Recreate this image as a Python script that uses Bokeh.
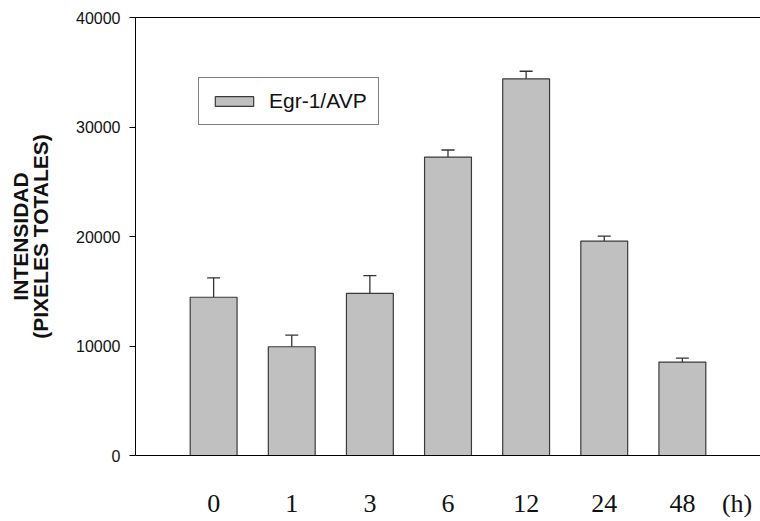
from bokeh.plotting import figure
from bokeh.models import (ColumnDataSource, FixedTicker, LinearAxis, Whisker, TeeHead,
                          Legend, LegendItem, Range1d)
from bokeh.embed import file_html
from bokeh.resources import INLINE

# ---- data ----
hours = ["0", "1", "3", "6", "12", "24", "48"]
intensity = [14450, 9930, 14800, 27250, 34400, 19580, 8530]
sem = [1780, 1060, 1620, 650, 690, 450, 360]
y_ticks = [0, 10000, 20000, 30000, 40000]
unit_label = "(h)"
series_name = "Egr-1/AVP"
y_title = "INTENSIDAD\n(PIXELES TOTALES)"

x = list(range(len(hours)))
upper = [v + e for v, e in zip(intensity, sem)]
src = ColumnDataSource(dict(x=x, top=intensity, upper=upper))

SANS = "Liberation Sans"
SERIF = "Liberation Serif"

p = figure(width=760, height=521, output_backend="svg", toolbar_location=None,
           x_range=Range1d(-1, 7), y_range=Range1d(0, 40000),
           min_border_left=135, min_border_right=0, min_border_top=17,
           min_border_bottom=66)
p.outline_line_color = None
p.xgrid.visible = False
p.ygrid.visible = False
p.background_fill_color = "white"
p.border_fill_color = "white"

bars = p.vbar(x="x", top="top", width=0.6, source=src, fill_color="#c0c0c0",
              line_color="#3a3a3a", line_width=1.2)

wh = Whisker(source=src, base="x", upper="upper", lower="top", dimension="height",
             line_color="#333333", line_width=1.3,
             upper_head=TeeHead(size=13, line_color="#333333", line_width=1.3),
             lower_head=None)
p.add_layout(wh)

# y axis
ya = p.yaxis[0]
ya.ticker = FixedTicker(ticks=y_ticks)
ya.minor_tick_line_color = None
ya.major_tick_out = 6
ya.major_tick_in = 0
ya.axis_line_color = "black"
ya.major_tick_line_color = "black"
ya.major_label_text_font = SANS
ya.major_label_text_font_size = "16px"
ya.major_label_text_color = "#111111"
ya.major_label_standoff = 9
ya.axis_label = y_title
ya.axis_label_text_font = SANS
ya.axis_label_text_font_style = "bold"
ya.axis_label_text_font_size = "21px"
ya.axis_label_text_line_height = 0.85
ya.axis_label_text_color = "#111111"
ya.axis_label_standoff = 21

# x axis
xa = p.xaxis[0]
tick_pos = x + [6.7]
xa.ticker = FixedTicker(ticks=tick_pos)
overrides = {i: h for i, h in enumerate(hours)}
overrides[6.7] = unit_label
xa.major_label_overrides = overrides
xa.major_tick_line_color = None
xa.major_tick_out = 0
xa.major_tick_in = 0
xa.minor_tick_line_color = None
xa.axis_line_color = "black"
xa.major_label_text_font = SERIF
xa.major_label_text_font_size = "26px"
xa.major_label_text_color = "#111111"
xa.major_label_standoff = 33

# top frame line
top = LinearAxis(ticker=FixedTicker(ticks=[]), major_tick_line_color=None,
                 minor_tick_line_color=None, major_label_text_font_size="0px",
                 axis_line_color="black", major_tick_out=0, major_tick_in=0,
                 major_label_standoff=0)
p.add_layout(top, "above")

legend = Legend(items=[LegendItem(label=series_name, renderers=[bars])],
                location=(63, 330), orientation="vertical",
                glyph_width=48, glyph_height=12, label_standoff=11,
                padding=11, margin=0, spacing=0,
                border_line_color="black", border_line_width=1,
                label_text_font=SANS, label_text_font_size="21px",
                label_text_color="#111111", background_fill_alpha=1)
p.add_layout(legend)

open("out.html", "w").write(file_html(p, INLINE))
